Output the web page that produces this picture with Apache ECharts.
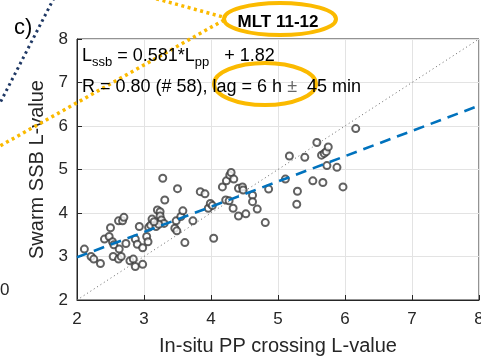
<!DOCTYPE html>
<html>
<head>
<meta charset="utf-8">
<script src="https://cdn.jsdelivr.net/npm/echarts@6/dist/echarts.min.js"></script>
<style>html,body{margin:0;padding:0;background:#fff;overflow:hidden;}#c{position:absolute;left:0;top:0;width:481px;height:359px;}</style>
</head>
<body>
<div id="c"></div>
<script>
// In-situ PP crossing L-value (x) and Swarm SSB L-value (y)
const ppL = [2.11,2.21,2.25,2.35,2.41,2.48,2.50,2.53,2.55,2.54,2.62,2.68,2.70,2.62,2.66,2.63,2.73,2.79,2.84,2.87,2.87,2.90,2.93,2.98,2.98,
  3.04,3.06,3.07,3.10,3.12,3.18,3.20,3.24,3.24,3.26,3.28,3.31,3.30,3.22,3.15,3.46,3.49,3.50,3.48,3.55,3.58,3.61,3.73,3.84,3.91,3.96,3.99,4.02,4.04,
  4.17,4.23,4.28,4.30,4.34,4.22,4.27,4.33,4.41,4.52,4.41,4.47,4.48,4.62,4.62,4.69,4.81,4.86,5.11,5.17,5.29,5.28,5.40,5.52,5.58,5.65,5.69,5.72,5.75,5.67,5.73,5.88,5.97,6.16];
const ssbL = [3.17,3.00,2.94,2.84,3.40,3.46,3.66,3.34,3.27,3.00,3.82,3.82,3.90,2.94,3.00,3.17,3.30,2.90,2.94,2.77,3.40,3.28,3.69,3.20,2.82,
  3.46,3.34,3.67,3.72,3.86,3.69,4.07,4.03,3.93,3.84,4.80,4.30,3.76,3.74,3.80,3.65,3.59,4.56,3.82,3.92,4.05,3.32,3.82,4.49,4.44,4.11,4.22,4.17,3.42,
  4.60,4.74,4.87,4.93,4.78,4.30,4.28,4.11,3.93,3.98,4.57,4.60,4.53,4.41,4.26,4.09,3.78,4.55,4.78,5.31,4.50,4.20,5.28,4.74,5.62,5.33,5.37,5.41,5.52,4.70,5.09,5.05,4.60,5.94];
const fitSlope = 0.581, fitIntercept = 1.82;
const lineX = [2, 8];
const axisMin = 2, axisMax = 8, axisStep = 1;

const scatterData = ppL.map((x, i) => [x, ssbL[i]]);
const fitData = lineX.map(x => [x, fitSlope * x + fitIntercept]);
const oneToOne = lineX.map(x => [x, x]);

const FONT = '"Liberation Sans", Arial, Helvetica, sans-serif';
const AX = '#262626';
const ORANGE = '#FBBA00';

const chart = echarts.init(document.getElementById('c'), null, {renderer: 'canvas', width: 481, height: 359});
const axisCommon = {
  type: 'value', min: axisMin, max: axisMax, interval: axisStep,
  axisLine: {show: true, lineStyle: {color: AX, width: 1}},
  axisTick: {show: true, inside: true, length: 5, lineStyle: {color: AX}},
  splitLine: {show: true, lineStyle: {color: '#e3e3e3', width: 1}},
  nameTextStyle: {fontFamily: FONT, fontSize: 20, color: AX}
};
chart.setOption({
  animation: false,
  backgroundColor: '#fff',
  grid: {left: 77, right: 2, top: 39, bottom: 59, show: true, borderColor: AX, borderWidth: 1,
         containLabel: false, outerBoundsMode: 'none'},
  xAxis: Object.assign({}, axisCommon, {
    name: 'In-situ PP crossing L-value', nameLocation: 'middle', nameGap: 36,
    axisLabel: {fontFamily: FONT, fontSize: 17, color: AX, margin: 11}
  }),
  yAxis: Object.assign({}, axisCommon, {
    name: 'Swarm SSB L-value', nameLocation: 'middle', nameGap: 24,
    axisLabel: {fontFamily: FONT, fontSize: 17, color: AX, margin: 9}
  }),
  series: [
    {type: 'line', data: oneToOne, showSymbol: false, silent: true,
     lineStyle: {color: '#666', width: 1, type: [1, 3]}},
    {type: 'scatter', data: scatterData, symbol: 'emptyCircle', symbolSize: 7,
     itemStyle: {color: '#3a3a3a', borderColor: '#3a3a3a', borderWidth: 1.1}},
    {type: 'line', data: fitData, showSymbol: false, silent: true, z: 5,
     lineStyle: {color: '#0072BD', width: 2.6, type: [11, 7]}}
  ],
  graphic: [
    {type: 'line', shape: {x1: 54, y1: -2, x2: 0, y2: 103},
     style: {stroke: '#1F3864', lineWidth: 3, lineDash: [2.5, 3.5]}, z: 100},
    {type: 'polyline', shape: {points: [[150, -3], [223, 17]]},
     style: {stroke: ORANGE, lineWidth: 3.5, lineDash: [3, 3.5], fill: null}, z: 100},
    {type: 'polyline', shape: {points: [[224, 20], [0, 146]]},
     style: {stroke: ORANGE, lineWidth: 3.5, lineDash: [3, 3.5], fill: null}, z: 100},
    {type: 'ellipse', shape: {cx: 280, cy: 19, rx: 56, ry: 16},
     style: {stroke: ORANGE, lineWidth: 4, fill: null}, z: 101},
    {type: 'ellipse', shape: {cx: 265, cy: 84, rx: 51, ry: 21},
     style: {stroke: ORANGE, lineWidth: 4, fill: null}, z: 101},
    {type: 'text', left: 14, top: 17, z: 102,
     style: {text: 'c)', fontFamily: FONT, fontSize: 22, fill: '#000'}},
    {type: 'text', x: 278, y: 22, z: 102,
     style: {text: 'MLT 11-12', fontFamily: FONT, fontSize: 17, fontWeight: 'bold', fill: '#000',
             align: 'center', verticalAlign: 'middle'}},
    {type: 'text', x: 0, y: 290, z: 102,
     style: {text: '0', fontFamily: FONT, fontSize: 17, fill: AX, align: 'left', verticalAlign: 'middle'}},
    {type: 'text', x: 82, y: 47, z: 102,
     style: {text: '{m|L}{s|ssb}{m| = 0.581*L}{s|pp}{m|   + 1.82}', fill: '#000',
             rich: {m: {fontFamily: FONT, fontSize: 18, lineHeight: 20, verticalAlign: 'top', fill: '#000'},
                    s: {fontFamily: FONT, fontSize: 13, lineHeight: 14, padding: [9, 0, 0, 0], verticalAlign: 'top', fill: '#000'}}}},
    {type: 'text', x: 82, y: 77, z: 102,
     style: {text: '{m|R = 0.80 (# 58), lag = 6 h }{p|±}{m|  45 min}', fill: '#000',
             rich: {m: {fontFamily: FONT, fontSize: 18, lineHeight: 20, fill: '#000'},
                    p: {fontFamily: FONT, fontSize: 18, lineHeight: 20, fill: '#666'}}}}
  ]
});
</script>
</body>
</html>
